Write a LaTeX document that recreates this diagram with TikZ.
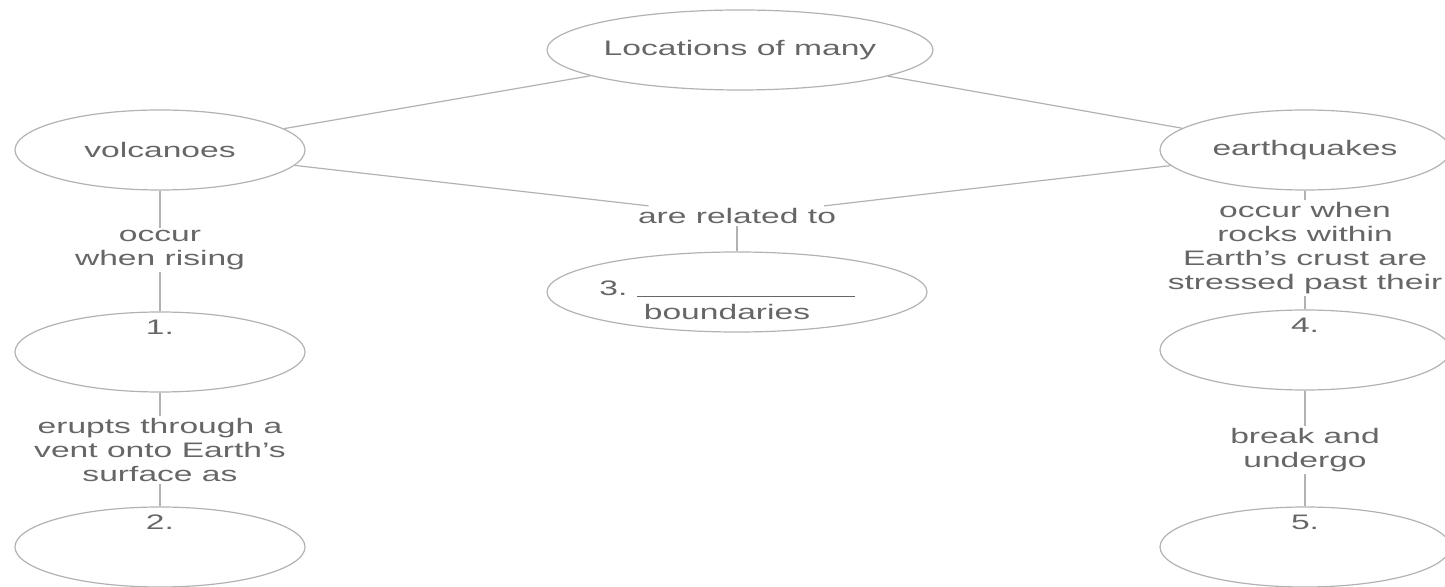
\documentclass[tikz,border=0pt]{standalone}
\usepackage{fontspec}
\setmainfont{Liberation Sans}[FakeStretch=1.6]
\usetikzlibrary{shapes.geometric}

\tikzset{
  oval/.style={ellipse, draw=black!30, line width=0.6pt, text=black!60,
    minimum width=145pt, minimum height=40pt, inner sep=0pt, align=center},
  linktext/.style={text=black!60, align=center, inner sep=1pt},
  conn/.style={draw=black!30, line width=0.6pt}
}

\begin{document}
\begin{tikzpicture}[x=0.5pt, y=-0.5pt, font=\fontsize{10.5}{12}\selectfont]
		\useasboundingbox (0,0) rectangle (1445,587);

		% Concept ovals
		\node[oval, minimum width=193pt] (top) at (740,50) {Locations of many};
		\node[oval] (volc) at (160,150) {volcanoes};
		\node[oval] (quake) at (1305,150) {earthquakes};
		\node[oval] (one) at (160,352) {};
		\node[oval] (two) at (160,547) {};
		\node[oval, minimum width=190pt] (three) at (737,292) {};
		\node[oval] (four) at (1305,350) {};
		\node[oval] (five) at (1305,547) {};

		% Text inside the blank ovals
		\node[linktext, anchor=north, yshift=-3pt] (onenum) at (one.north) {1.};
		\node[linktext, anchor=north, yshift=-3pt] (twonum) at (two.north) {2.};
		\node[linktext] (threetxt) at (727,300) {3.\ \rule[-1pt]{109pt}{0.6pt}\\boundaries};
		\node[linktext, anchor=north, yshift=-3pt] (fournum) at (four.north) {4.};
		\node[linktext, anchor=north, yshift=-3pt] (fivenum) at (five.north) {5.};

		% Linking phrases
		\node[linktext] (rel) at (737,216) {are related to};
		\node[linktext] (rise) at (160,250) {occur\\when rising};
		\node[linktext] (erupt) at (160,450) {erupts through a\\vent onto Earth's\\surface as};
		\node[linktext] (stress) at (1305,248) {occur when\\rocks within\\Earth's crust are\\stressed past their};
		\node[linktext] (brk) at (1305,450) {break and\\undergo};

		% Connectors
		\draw[conn] (top) -- (volc);
		\draw[conn] (top) -- (quake);
		\draw[conn] (volc) -- (rel);
		\draw[conn] (quake) -- (rel);
		\draw[conn] (rel) -- (three);
		\draw[conn] (volc) -- (rise);
		\draw[conn] (rise) -- (one);
		\draw[conn] (one) -- (erupt);
		\draw[conn] (erupt) -- (two);
		\draw[conn] (quake) -- (stress);
		\draw[conn] (stress) -- (four);
		\draw[conn] (four) -- (brk);
		\draw[conn] (brk) -- (five);
	\end{tikzpicture}
\end{document}
